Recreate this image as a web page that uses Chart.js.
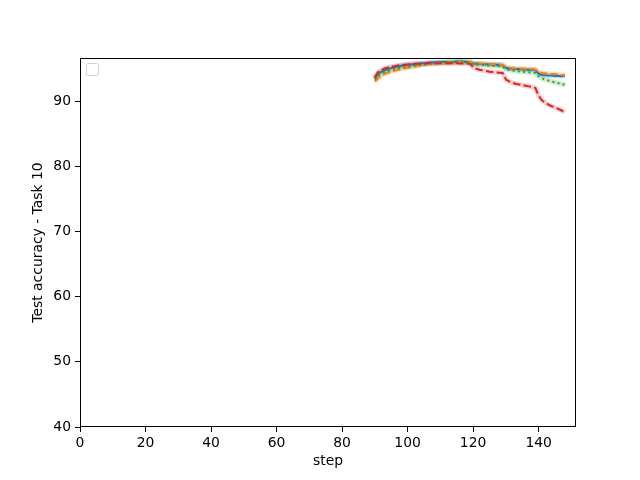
<!DOCTYPE html>
<html>
<head>
<meta charset="utf-8">
<script src="https://cdn.jsdelivr.net/npm/chart.js@4"></script>
<style>
  html, body { margin: 0; padding: 0; background: #fff; }
  #wrap { width: 640px; height: 480px; }
</style>
</head>
<body>
<div id="wrap"><canvas id="chart" width="640" height="480"></canvas></div>
<script>
// steps 90..148 (one point per step)
const steps = [
  90, 91, 92, 93, 94, 95, 96, 97, 98, 99,
  100, 101, 102, 103, 104, 105, 106, 107, 108, 109,
  110, 111, 112, 113, 114, 115, 116, 117, 118, 119,
  120, 121, 122, 123, 124, 125, 126, 127, 128, 129,
  130, 131, 132, 133, 134, 135, 136, 137, 138, 139,
  140, 141, 142, 143, 144, 145, 146, 147, 148
];

const blueVals = [
  93.5, 94.2, 94.5, 94.7, 94.9, 95.05, 95.2, 95.3, 95.4, 95.5,
  95.55, 95.6, 95.65, 95.7, 95.75, 95.8, 95.85, 95.9, 95.9, 95.95,
  95.95, 96.0, 96.0, 96.0, 96.0, 96.05, 96.05, 96.05, 96.0, 96.0,
  95.75, 95.7, 95.7, 95.65, 95.65, 95.6, 95.6, 95.55, 95.55, 95.5,
  95.1, 95.0, 94.95, 94.9, 94.9, 94.85, 94.85, 94.8, 94.8, 94.75,
  94.2, 94.0, 93.95, 93.9, 93.9, 93.85, 93.85, 93.8, 93.9
];
const orangeVals = [
  93.0, 93.5, 93.9, 94.15, 94.35, 94.5, 94.65, 94.8, 94.9, 95.0,
  95.1, 95.2, 95.3, 95.4, 95.5, 95.6, 95.65, 95.7, 95.75, 95.8,
  95.85, 95.9, 95.9, 95.95, 95.95, 96.0, 96.0, 96.0, 96.0, 96.0,
  95.8, 95.75, 95.75, 95.7, 95.7, 95.65, 95.65, 95.6, 95.6, 95.55,
  95.2, 95.1, 95.05, 95.0, 95.0, 94.95, 94.95, 94.9, 94.9, 94.85,
  94.5, 94.3, 94.25, 94.2, 94.15, 94.1, 94.05, 94.0, 94.0
];
const greenVals = [
  93.3, 93.9, 94.2, 94.45, 94.6, 94.75, 94.9, 95.0, 95.1, 95.2,
  95.3, 95.35, 95.4, 95.5, 95.55, 95.6, 95.7, 95.75, 95.8, 95.85,
  95.9, 95.9, 95.95, 95.95, 96.0, 96.0, 96.0, 96.0, 96.0, 95.95,
  95.7, 95.65, 95.6, 95.55, 95.5, 95.45, 95.4, 95.4, 95.35, 95.3,
  94.9, 94.75, 94.7, 94.6, 94.55, 94.5, 94.45, 94.4, 94.35, 94.3,
  93.8, 93.5, 93.3, 93.15, 93.0, 92.85, 92.75, 92.6, 92.5
];
const redVals = [
  93.6, 94.45, 94.75, 95.0, 95.15, 95.25, 95.35, 95.45, 95.5, 95.55,
  95.6, 95.65, 95.7, 95.7, 95.75, 95.75, 95.8, 95.8, 95.8, 95.8,
  95.8, 95.8, 95.8, 95.8, 95.8, 95.8, 95.75, 95.75, 95.75, 95.7,
  95.2, 94.95, 94.8, 94.7, 94.6, 94.5, 94.45, 94.4, 94.35, 94.3,
  93.3, 93.0, 92.8, 92.65, 92.55, 92.45, 92.35, 92.25, 92.15, 92.0,
  90.8, 90.1, 89.75, 89.45, 89.2, 89.0, 88.8, 88.55, 88.3
];

const xTicks = [0, 20, 40, 60, 80, 100, 120, 140];
const yTicks = [40, 50, 60, 70, 80, 90];

const toPts = (vals) => steps.map((s, i) => ({ x: s, y: vals[i] }));

// 線の定義（色・線種）
const series = [
  { vals: blueVals, color: "31, 119, 180", dash: [], order: 3 },
  { vals: orangeVals, color: "255, 127, 14", dash: [7.5, 3.2], order: 2 },
  { vals: greenVals, color: "44, 160, 44", dash: [2, 3.3], order: 1 },
  { vals: redVals, color: "214, 39, 40", dash: [7.5, 3.2], order: 0 },
];

const datasets = [];
series.forEach((s) => {
  // 薄い帯（ばらつきの影）
  datasets.push({
    data: toPts(s.vals),
    borderColor: `rgba(${s.color}, 0.22)`,
    borderWidth: 5,
    pointRadius: 0,
    fill: false,
    order: 10 + s.order,
  });
  datasets.push({
    data: toPts(s.vals),
    borderColor: `rgb(${s.color})`,
    borderWidth: 2,
    borderDash: s.dash,
    pointRadius: 0,
    fill: false,
    order: s.order,
  });
});

Chart.defaults.font.family = "'DejaVu Sans', sans-serif";
Chart.defaults.font.size = 13.9;
Chart.defaults.color = "#000";

// 枠線と空の凡例
const framePlugin = {
  id: "frame",
  afterDraw(chart) {
    const { ctx, chartArea: a } = chart;
    ctx.save();
    ctx.strokeStyle = "#000";
    ctx.lineWidth = 1;
    ctx.strokeRect(Math.round(a.left) + 0.5, Math.round(a.top) + 0.5,
      Math.round(a.right - a.left) - 1, Math.round(a.bottom - a.top) - 1);
    // empty legend box
    ctx.strokeStyle = "rgba(204, 204, 204, 0.9)";
    ctx.fillStyle = "rgba(255, 255, 255, 0.8)";
    const x = a.left + 6.5, y = a.top + 5.5, w = 12, h = 12, r = 2;
    ctx.beginPath();
    ctx.moveTo(x + r, y);
    ctx.arcTo(x + w, y, x + w, y + h, r);
    ctx.arcTo(x + w, y + h, x, y + h, r);
    ctx.arcTo(x, y + h, x, y, r);
    ctx.arcTo(x, y, x + w, y, r);
    ctx.closePath();
    ctx.fill();
    ctx.stroke();
    ctx.restore();
  },
};

new Chart(document.getElementById("chart"), {
  type: "line",
  data: { datasets },
  options: {
    responsive: false,
    animation: false,
    layout: { padding: { top: 58, right: 64, left: 0, bottom: 0 } },
    plugins: { legend: { display: false }, tooltip: { enabled: false } },
    scales: {
      x: {
        type: "linear",
        min: 0,
        max: 151.4,
        afterBuildTicks: (sc) => { sc.ticks = xTicks.map((v) => ({ value: v })); },
        afterFit: (sc) => { sc.height = 53; },
        ticks: { padding: 3, maxRotation: 0 },
        grid: { drawOnChartArea: false, tickLength: 5, color: "#000", tickWidth: 1 },
        border: { display: false },
        title: { display: true, text: "step", padding: { top: 0, bottom: 10 } },
      },
      y: {
        type: "linear",
        min: 40,
        max: 96.6,
        afterBuildTicks: (sc) => { sc.ticks = yTicks.map((v) => ({ value: v })); },
        afterFit: (sc) => { sc.width = 80; },
        ticks: { padding: 4 },
        grid: { drawOnChartArea: false, tickLength: 5, color: "#000", tickWidth: 1 },
        border: { display: false },
        title: { display: true, text: "Test accuracy - Task 10", padding: { top: 30, bottom: 0 } },
      },
    },
  },
  plugins: [framePlugin],
});
</script>
</body>
</html>
